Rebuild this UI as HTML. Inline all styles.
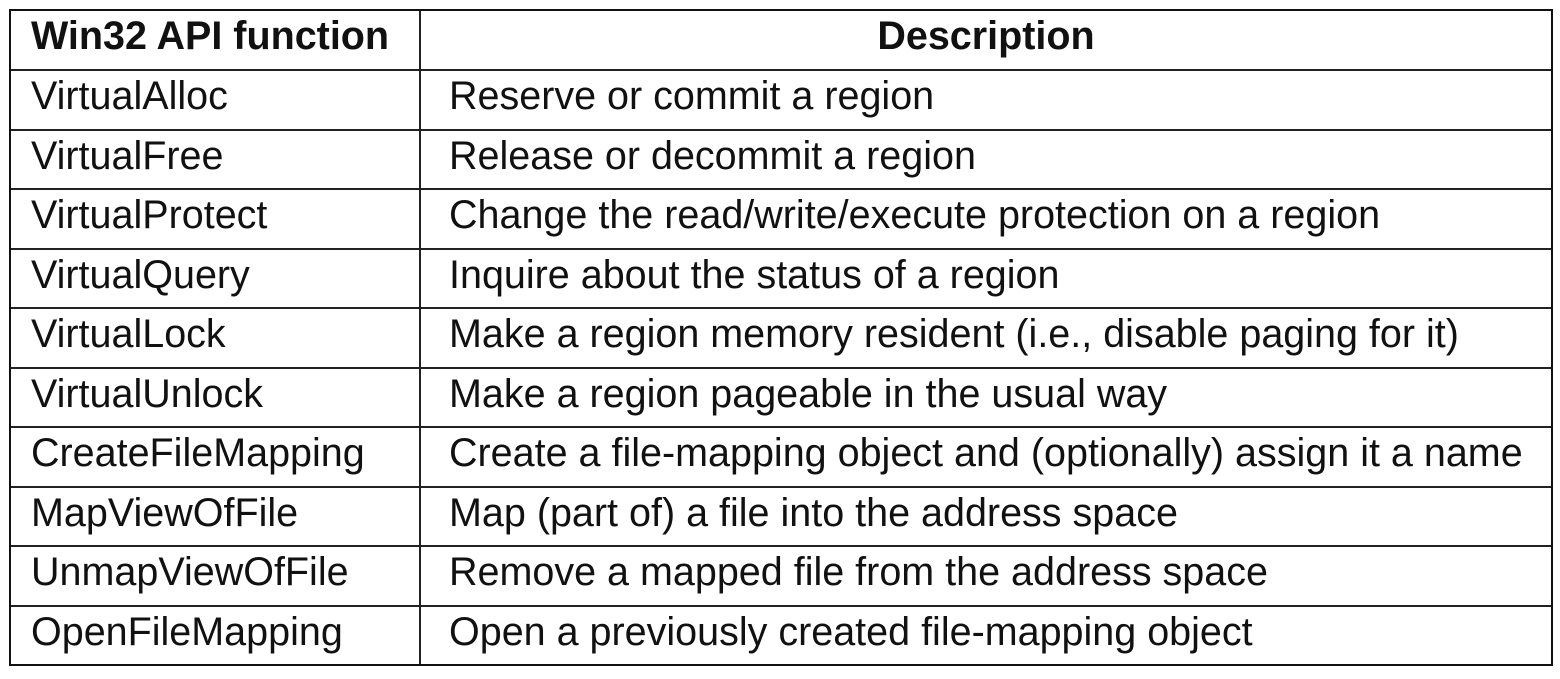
<!DOCTYPE html>
<html><head><meta charset="utf-8"><style>
html,body{margin:0;padding:0;background:#fff;width:1560px;height:679px;overflow:hidden}
.t{position:absolute;left:9px;top:9px;width:1540px;height:653px;border:2px solid #111;box-sizing:content-box}
.h{position:absolute;left:0;width:1540px;height:2px;background:#222}
.v{position:absolute;left:408px;top:0;width:2px;height:653px;background:#222}
.c{position:absolute;font-family:"Liberation Sans",Arial,sans-serif;font-size:39.5px;color:#111;line-height:60px;white-space:nowrap;margin-top:-3px}
.b{font-weight:bold}
</style></head><body>
<div class="t">
<div class="v"></div>
<div class="h" style="top:58px"></div>
<div class="h" style="top:117.5px"></div>
<div class="h" style="top:177px"></div>
<div class="h" style="top:236.5px"></div>
<div class="h" style="top:296px"></div>
<div class="h" style="top:355.5px"></div>
<div class="h" style="top:415px"></div>
<div class="h" style="top:474.5px"></div>
<div class="h" style="top:534px"></div>
<div class="h" style="top:593.5px"></div>

<div class="c b" style="left:20px;top:-2px">Win32 API function</div>
<div class="c b" style="left:410px;width:1130px;text-align:center;top:-2px">Description</div>

<div class="c" style="left:20px;top:58px">VirtualAlloc</div>
<div class="c" style="left:438px;top:58px">Reserve or commit a region</div>
<div class="c" style="left:20px;top:117.5px">VirtualFree</div>
<div class="c" style="left:438px;top:117.5px">Release or decommit a region</div>
<div class="c" style="left:20px;top:177px">VirtualProtect</div>
<div class="c" style="left:438px;top:177px">Change the read/write/execute protection on a region</div>
<div class="c" style="left:20px;top:236.5px">VirtualQuery</div>
<div class="c" style="left:438px;top:236.5px">Inquire about the status of a region</div>
<div class="c" style="left:20px;top:296px">VirtualLock</div>
<div class="c" style="left:438px;top:296px">Make a region memory resident (i.e., disable paging for it)</div>
<div class="c" style="left:20px;top:355.5px">VirtualUnlock</div>
<div class="c" style="left:438px;top:355.5px">Make a region pageable in the usual way</div>
<div class="c" style="left:20px;top:415px">CreateFileMapping</div>
<div class="c" style="left:438px;top:415px">Create a file-mapping object and (optionally) assign it a name</div>
<div class="c" style="left:20px;top:474.5px">MapViewOfFile</div>
<div class="c" style="left:438px;top:474.5px">Map (part of) a file into the address space</div>
<div class="c" style="left:20px;top:534px">UnmapViewOfFile</div>
<div class="c" style="left:438px;top:534px">Remove a mapped file from the address space</div>
<div class="c" style="left:20px;top:593.5px">OpenFileMapping</div>
<div class="c" style="left:438px;top:593.5px">Open a previously created file-mapping object</div>
</div>
</body></html>
